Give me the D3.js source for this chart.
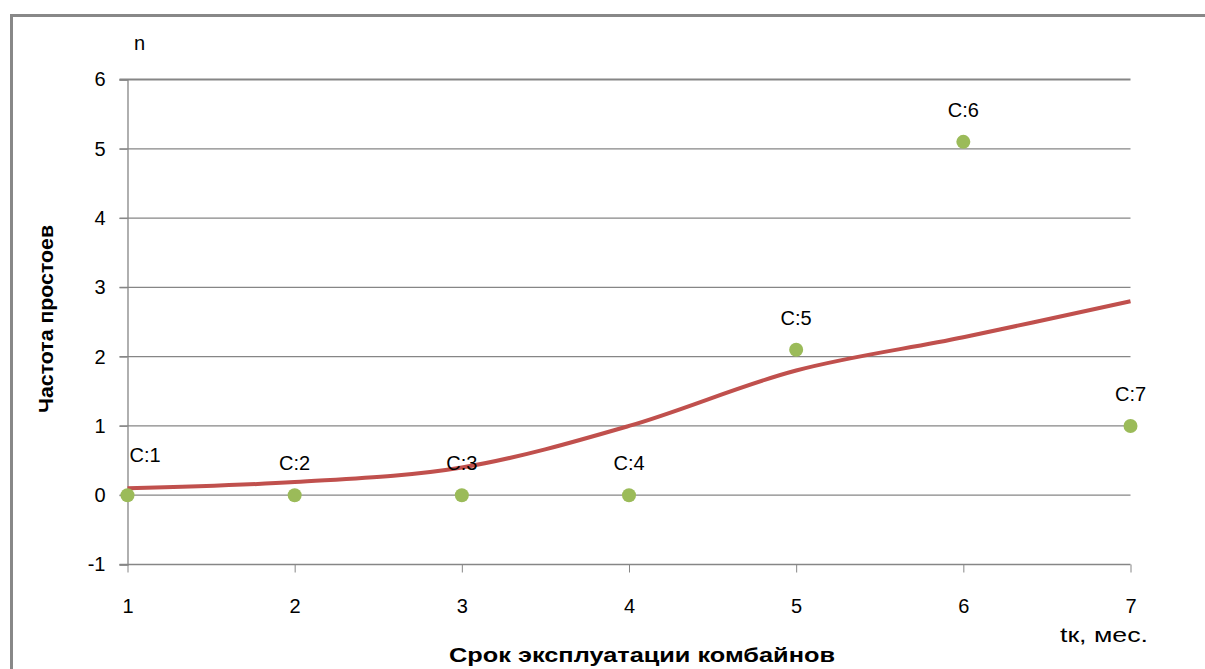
<!DOCTYPE html>
<html>
<head>
<meta charset="utf-8">
<script src="https://cdn.jsdelivr.net/npm/d3@7"></script>
<style>
  html, body { margin: 0; padding: 0; background: #fff; }
  svg { display: block; }
  .tick text { font-family: "Liberation Sans", Arial, sans-serif; font-size: 20px; fill: #000; }
</style>
</head>
<body>
<script>
// Срок эксплуатации (месяцы) и наблюдаемая частота простоев
const months = [1, 2, 3, 4, 5, 6, 7];
const downtime = [0, 0, 0, 0, 2.1, 5.1, 1];
const pointLabels = ["C:1", "C:2", "C:3", "C:4", "C:5", "C:6", "C:7"];
// Сглаженная кривая тренда
const trend = [0.1, 0.19, 0.4, 1.0, 1.8, 2.28, 2.8];
const yTicks = [-1, 0, 1, 2, 3, 4, 5, 6];
const xTicks = [1, 2, 3, 4, 5, 6, 7];

const W = 1205, H = 669;
const FONT = "\"Liberation Sans\", Arial, sans-serif";
const svg = d3.select("body").append("svg").attr("width", W).attr("height", H);

// outer frame
svg.append("path")
  .attr("d", `M11.5,${H} V15.5 H${W}`)
  .attr("fill", "none").attr("stroke", "#888").attr("stroke-width", 3);

const x = d3.scaleLinear().domain([1, 7]).range([127.5, 1130.5]);
const y = d3.scaleLinear().domain([-1, 6]).range([564.5, 79.5]);

// horizontal gridlines
svg.append("g").selectAll("line").data(yTicks).join("line")
  .attr("x1", x(1) - 8).attr("x2", x(7))
  .attr("y1", d => y(d)).attr("y2", d => y(d))
  .attr("stroke", "#868686").attr("stroke-width", d => d === 6 ? 2 : 1.3);

// y axis
const yAxis = svg.append("g").attr("transform", `translate(${x(1)},0)`)
  .call(d3.axisLeft(y).tickValues(yTicks).tickSize(8).tickPadding(14).tickFormat(d => String(d)));
yAxis.select(".domain").attr("stroke", "#868686").attr("stroke-width", 1.3);
yAxis.selectAll(".tick line").attr("stroke", "#868686");

// x axis
const xAxis = svg.append("g").attr("transform", `translate(0,${y(-1)})`)
  .call(d3.axisBottom(x).tickValues(xTicks).tickSize(8).tickPadding(26).tickFormat(d => String(d)));
xAxis.select(".domain").remove();
xAxis.selectAll(".tick line").attr("stroke", "#868686");
xAxis.selectAll(".tick text").attr("dy", "0.71em");

// trend curve
const line = d3.line()
  .x((d, i) => x(months[i]))
  .y(d => y(d))
  .curve(d3.curveCatmullRom.alpha(0.5));
svg.append("path").datum(trend)
  .attr("d", line)
  .attr("fill", "none").attr("stroke", "#C0504D").attr("stroke-width", 4);

// observed points
svg.append("g").selectAll("circle").data(downtime).join("circle")
  .attr("cx", (d, i) => x(months[i])).attr("cy", d => y(d)).attr("r", 7)
  .attr("fill", "#9BBB59");

// point labels
svg.append("g").selectAll("text").data(downtime).join("text")
  .attr("x", (d, i) => i === 0 ? x(months[i]) + 2 : x(months[i]))
  .attr("y", (d, i) => y(d) - (i === 0 ? 33 : 25))
  .attr("text-anchor", (d, i) => i === 0 ? "start" : "middle")
  .attr("font-family", FONT)
  .attr("font-size", 20)
  .text((d, i) => pointLabels[i]);

// axis titles
svg.append("text").attr("x", 134).attr("y", 50)
  .attr("font-family", FONT)
  .attr("font-size", 20).text("n");

svg.append("text").attr("transform", `translate(53,319) rotate(-90)`)
  .attr("text-anchor", "middle")
  .attr("font-family", FONT)
  .attr("font-weight", "bold").attr("font-size", 21)
  .attr("textLength", 188).attr("lengthAdjust", "spacingAndGlyphs")
  .text("Частота простоев");

svg.append("text").attr("x", 1104).attr("y", 642)
  .attr("text-anchor", "middle")
  .attr("font-family", FONT)
  .attr("font-size", 20)
  .attr("textLength", 88).attr("lengthAdjust", "spacingAndGlyphs")
  .text("tк, мес.");

svg.append("text").attr("x", 642).attr("y", 662)
  .attr("text-anchor", "middle")
  .attr("font-family", FONT)
  .attr("font-weight", "bold").attr("font-size", 20)
  .attr("textLength", 386).attr("lengthAdjust", "spacingAndGlyphs")
  .text("Срок эксплуатации комбайнов");
</script>
</body>
</html>
